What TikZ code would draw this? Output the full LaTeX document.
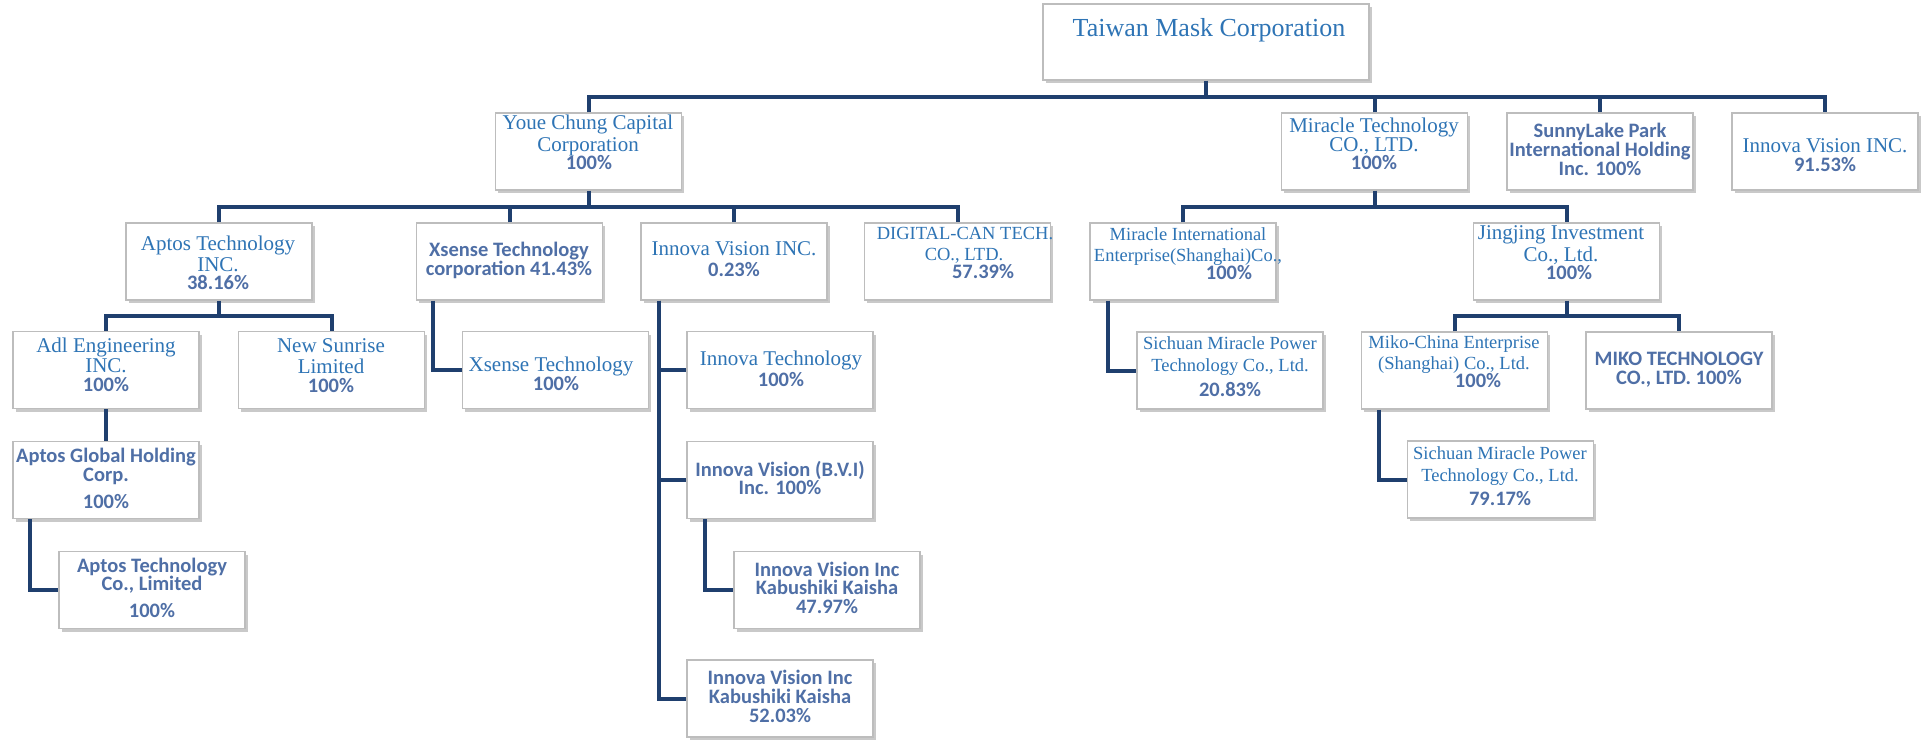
\documentclass[tikz,border=0pt]{standalone}
\usepackage{fontspec}
\setmainfont{Liberation Serif}
\newfontfamily\carl{Carlito}
\usetikzlibrary{shadows}
\definecolor{serifblue}{HTML}{2E74B5}
\definecolor{sansblue}{HTML}{4F6FA6}
\definecolor{linkblue}{HTML}{1F3F6E}
\definecolor{boxgray}{HTML}{BDBDBD}
\begin{document}
\begin{tikzpicture}[x=1pt,y=-1pt,
  box/.style={draw=boxgray, line width=1.2pt, fill=white, minimum width=186pt, minimum height=77pt, inner sep=0pt,
    drop shadow={shadow xshift=2.5pt, shadow yshift=-3pt, opacity=0.3, fill=black!70}},
  se/.style={font=\fontsize{21}{22}\selectfont, text=serifblue, inner sep=0pt, text height=14.5pt, text depth=4.5pt},
  ses/.style={font=\fontsize{18.5}{20}\selectfont, text=serifblue, inner sep=0pt, text height=13pt, text depth=4pt},
  big/.style={font=\fontsize{26}{28}\selectfont, text=serifblue, inner sep=0pt, text height=18pt, text depth=5.5pt},
  sa/.style={font=\carl\bfseries\fontsize{20.5}{20}\selectfont, text=sansblue, inner sep=0pt, text height=13pt, text depth=1.5pt},
  conn/.style={draw=linkblue, line width=4pt, line join=miter}
]
\useasboundingbox (0,0) rectangle (1921,739);
% ---------- boxes ----------
\node[box, minimum width=326pt, minimum height=76pt] (tmc) at (1206,42) {};
\node[box] (youe)   at (588.6,151.5) {};
\node[box] (mtech)  at (1374.5,151.5) {};
\node[box] (sunny)  at (1600,151.5) {};
\node[box] (inn91)  at (1825,151.5) {};
\node[box] (aptos)  at (219,261.5) {};
\node[box] (xcorp)  at (509.5,261.5) {};
\node[box] (innINC) at (734,261.5) {};
\node[box] (dig)    at (957.5,261.5) {};
\node[box] (mintl)  at (1183,261.5) {};
\node[box] (jing)   at (1566.5,261.5) {};
\node[box] (adl)    at (106,370) {};
\node[box] (nsun)   at (331.5,370) {};
\node[box] (xtech)  at (555.5,370) {};
\node[box] (itech)  at (780,370) {};
\node[box] (sich20) at (1230,370.5) {};
\node[box] (miko)   at (1454.5,370.5) {};
\node[box] (mikot)  at (1679,370.5) {};
\node[box] (aglob)  at (106,480) {};
\node[box] (bvi)    at (780,480) {};
\node[box] (sich79) at (1500.5,479.5) {};
\node[box] (aco)    at (152,590) {};
\node[box] (kk47)   at (827,590) {};
\node[box] (kk52)   at (780,698.5) {};
% ---------- texts ----------
\node[big] (tmc-1) at (1209,30) {Taiwan Mask Corporation};
\node[se] (youe-1) at (588,124) {Youe Chung Capital};
\node[se] (youe-2) at (588,146) {Corporation};
\node[sa] (youe-3) at (589,164) {100\%};
\node[se] (mtech-1) at (1374,127) {Miracle Technology};
\node[se] (mtech-2) at (1374,146) {CO., LTD.};
\node[sa] (mtech-3) at (1374,164) {100\%};
\node[sa] (sunny-1) at (1600,132) {SunnyLake Park};
\node[sa] (sunny-2) at (1600,151) {International Holding};
\node[sa] (sunny-3) at (1600,170) {Inc. 100\%};
\node[se] (inn91-1) at (1825,147) {Innova Vision INC.};
\node[sa] (inn91-2) at (1825,166) {91.53\%};
\node[se] (aptos-1) at (218,245) {Aptos Technology};
\node[se] (aptos-2) at (218,266) {INC.};
\node[sa] (aptos-3) at (218,284) {38.16\%};
\node[sa] (xcorp-1) at (509,251) {Xsense Technology};
\node[sa] (xcorp-2) at (509,270) {corporation 41.43\%};
\node[se] (innINC-1) at (734,250) {Innova Vision INC.};
\node[sa] (innINC-2) at (734,271) {0.23\%};
\node[ses] (dig-1) at (965,235) {DIGITAL-CAN TECH.};
\node[ses] (dig-2) at (964,256) {CO., LTD.};
\node[sa] (dig-3) at (983,273) {57.39\%};
\node[ses] (mintl-1) at (1188,236) {Miracle International};
\node[ses] (mintl-2) at (1188,257) {Enterprise(Shanghai)Co.,};
\node[sa] (mintl-3) at (1229,274) {100\%};
\node[se] (jing-1) at (1561,234) {Jingjing Investment};
\node[se] (jing-2) at (1561,256) {Co., Ltd.};
\node[sa] (jing-3) at (1569,274) {100\%};
\node[se] (adl-1) at (106,347) {Adl Engineering};
\node[se] (adl-2) at (106,367) {INC.};
\node[sa] (adl-3) at (106,386) {100\%};
\node[se] (nsun-1) at (331,347) {New Sunrise};
\node[se] (nsun-2) at (331,368) {Limited};
\node[sa] (nsun-3) at (331,387) {100\%};
\node[se] (xtech-1) at (551,366) {Xsense Technology};
\node[sa] (xtech-2) at (556,385) {100\%};
\node[se] (itech-1) at (781,360) {Innova Technology};
\node[sa] (itech-2) at (781,381) {100\%};
\node[sa] (bvi-1) at (780,471) {Innova Vision (B.V.I)};
\node[sa] (bvi-2) at (780,489) {Inc. 100\%};
\node[sa] (kk47-1) at (827,571) {Innova Vision Inc};
\node[sa] (kk47-2) at (827,589) {Kabushiki Kaisha};
\node[sa] (kk47-3) at (827,608) {47.97\%};
\node[sa] (kk52-1) at (780,679) {Innova Vision Inc};
\node[sa] (kk52-2) at (780,698) {Kabushiki Kaisha};
\node[sa] (kk52-3) at (780,717) {52.03\%};
\node[sa] (aglob-1) at (106,457) {Aptos Global Holding};
\node[sa] (aglob-2) at (106,476) {Corp.};
\node[sa] (aglob-3) at (106,503) {100\%};
\node[sa] (aco-1) at (152,567) {Aptos Technology};
\node[sa] (aco-2) at (152,585) {Co., Limited};
\node[sa] (aco-3) at (152,612) {100\%};
\node[ses] (sich20-1) at (1230,345) {Sichuan Miracle Power};
\node[ses] (sich20-2) at (1230,367) {Technology Co., Ltd.};
\node[sa] (sich20-3) at (1230,391) {20.83\%};
\node[ses] (miko-1) at (1454,344) {Miko-China Enterprise};
\node[ses] (miko-2) at (1454,365) {(Shanghai) Co., Ltd.};
\node[sa] (miko-3) at (1478,382) {100\%};
\node[sa] (mikot-1) at (1679,360) {MIKO TECHNOLOGY};
\node[sa] (mikot-2) at (1679,379) {CO., LTD. 100\%};
\node[ses] (sich79-1) at (1500,455) {Sichuan Miracle Power};
\node[ses] (sich79-2) at (1500,477) {Technology Co., Ltd.};
\node[sa] (sich79-3) at (1500,500) {79.17\%};
% ---------- buses ----------
\coordinate (bus0) at (0,97);
\coordinate (bus1) at (0,207);
\coordinate (bus2) at (0,316);
% level 0
\draw[conn] (youe.north) -- (youe.north |- bus0) -- (inn91.north |- bus0) -- (inn91.north);
\draw[conn] (tmc.south) -- (tmc.south |- bus0);
\draw[conn] (mtech.north) -- (mtech.north |- bus0);
\draw[conn] (sunny.north) -- (sunny.north |- bus0);
% under Youe Chung
\draw[conn] (aptos.north) -- (aptos.north |- bus1) -- (dig.north |- bus1) -- (dig.north);
\draw[conn] (youe.south) -- (youe.south |- bus1);
\draw[conn] (xcorp.north) -- (xcorp.north |- bus1);
\draw[conn] (innINC.north) -- (innINC.north |- bus1);
% under Miracle Technology
\draw[conn] (mintl.north) -- (mintl.north |- bus1) -- (jing.north |- bus1) -- (jing.north);
\draw[conn] (mtech.south) -- (mtech.south |- bus1);
% under Aptos Technology INC
\draw[conn] (adl.north) -- (adl.north |- bus2) -- (nsun.north |- bus2) -- (nsun.north);
\draw[conn] (aptos.south) -- (aptos.south |- bus2);
% under Jingjing
\draw[conn] (miko.north) -- (miko.north |- bus2) -- (mikot.north |- bus2) -- (mikot.north);
\draw[conn] (jing.south) -- (jing.south |- bus2);
% elbows
\draw[conn] ([xshift=17.5pt]xcorp.south west) |- (xtech.west);
\draw[conn] ([xshift=19pt]innINC.south west) |- (kk52.west);
\draw[conn] ([xshift=19pt]innINC.south west) |- (itech.west);
\draw[conn] ([xshift=19pt]innINC.south west) |- (bvi.west);
\draw[conn] ([xshift=19pt]bvi.south west) |- (kk47.west);
\draw[conn] (adl.south) -- (aglob.north);
\draw[conn] ([xshift=18pt]aglob.south west) |- (aco.west);
\draw[conn] ([xshift=19pt]mintl.south west) |- (sich20.west);
\draw[conn] ([xshift=18.5pt]miko.south west) |- (sich79.west);
\end{tikzpicture}
\end{document}
